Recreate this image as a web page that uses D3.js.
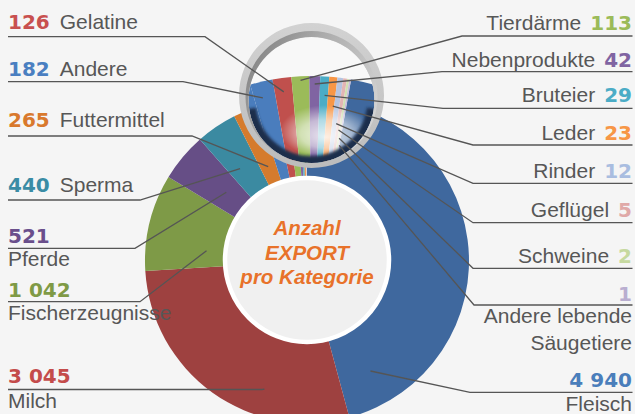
<!DOCTYPE html>
<html><head><meta charset="utf-8">
<script src="https://cdn.jsdelivr.net/npm/d3@7"></script>
<style>body{margin:0;background:#f5f5f5}svg{display:block}</style>
</head><body>
<svg id="c" width="635" height="414"></svg>
<script>
// ---------- data ----------
const categories = ["Fleisch","Milch","Fischerzeugnisse","Pferde","Sperma","Futtermittel","Andere","Gelatine","Tierdärme","Nebenprodukte","Bruteier","Leder","Rinder","Geflügel","Schweine","Andere lebende Säugetiere"];
const values = [4940,3045,1042,521,440,265,182,126,113,42,29,23,12,5,2,1];
const valueLabels = ["4 940","3 045","1 042","521","440","265","182","126","113","42","29","23","12","5","2","1"];
const labelLines = [["Fleisch"],["Milch"],["Fischerzeugnisse"],["Pferde"],["Sperma"],["Futtermittel"],["Andere"],["Gelatine"],["Tierdärme"],["Nebenprodukte"],["Bruteier"],["Leder"],["Rinder"],["Geflügel"],["Schweine"],["Andere lebende","Säugetiere"]];
const centerTitle = ["Anzahl","EXPORT","pro Kategorie"];
const lensFirst = 6; // slices shown enlarged in the magnifier (Andere ... Andere lebende Säugetiere)

// ---------- styles ----------
const sliceColors = ["#3f689e","#9e4140","#7e9a47","#664e86","#3b8aa1","#d57b2d","#4a7dbd","#c0504d","#9bbb59","#8064a2","#4bacc6","#f79646","#b6c4e0","#e3b5b4","#d1e0b2","#c7bcda"];
const numberColors = ["#4a7ebb","#c44c4b","#7f9a45","#6a4f8c","#3a8ca5","#d9792d","#4a7fc1","#c8504f","#9bbb59","#8064a2","#4bacc6","#f79646","#a9bde0","#e0a9a8","#c6d9a0","#b9aed0"];
const textColor = "#575757", lineColor = "#555";
// label layout: side, number baseline, stacked text baselines, underline y, bend x, leader target (fraction of slice angle, radius)
const layout = [
 {side:"R", numY:386.7, textY:[411], lineY:392.3, bendX:470, f:0.91, r:127},
 {side:"L", numY:383, textY:[408], lineY:389.5, bendX:262, f:0.33, r:135},
 {side:"L", numY:297, textY:[320], lineY:301.7, bendX:140, f:0.27, r:101},
 {side:"L", numY:243, textY:[266], lineY:248.3, bendX:135, f:0.53, r:106},
 {side:"L", numY:191.7, textY:null, lineY:200, bendX:140, f:0.37, r:114},
 {side:"L", numY:126.7, textY:null, lineY:136, bendX:192, f:0.49, r:102},
 {side:"L", numY:76, textY:null, lineY:81.7, bendX:183, f:0.4, r:208},
 {side:"L", numY:29.3, textY:null, lineY:36.7, bendX:205, f:0.5, r:210},
 {side:"R", numY:30, textY:null, lineY:36, bendX:462, f:0.5, r:220},
 {side:"R", numY:66.7, textY:null, lineY:71.7, bendX:442, f:0.5, r:216},
 {side:"R", numY:101.7, textY:null, lineY:108.3, bendX:443, f:0.6, r:205},
 {side:"R", numY:139.5, textY:null, lineY:145, bendX:473, f:0.8, r:195},
 {side:"R", numY:178, textY:null, lineY:183.3, bendX:473, f:0.85, r:178},
 {side:"R", numY:217, textY:null, lineY:222.7, bendX:473, f:0.85, r:172},
 {side:"R", numY:263, textY:null, lineY:268.3, bendX:473, f:0.85, r:164},
 {side:"R", numY:300.7, textY:[323,350], lineY:305, bendX:474, f:0.85, r:157}
];

const W = 635, H = 414, deg = Math.PI/180;
const cx = 307, cy = 261, rOut = 162, rIn = 80;
const lens = {cx:311.5, cy:95.5, r:72.5, hx:311.5, hy:100, hr:63};
const mag = {cx:312, cy:300, r:224, a0:-16*deg, a1:10.05*deg};

const svg = d3.select("#c");
const defs = svg.append("defs");
svg.append("rect").attr("width",W).attr("height",H).attr("fill","#f5f5f5");

// ---------- main donut ----------
const pie = d3.pie().sort(null).value(d => d).startAngle(0).endAngle(2*Math.PI);
const arcs = pie(values);
const arc = d3.arc().innerRadius(rIn).outerRadius(rOut);
const gMain = svg.append("g").attr("transform",`translate(${cx},${cy})`);
gMain.selectAll("path").data(arcs).join("path")
  .attr("d", arc).attr("fill",(d,i)=>sliceColors[i]);

// centre disc
svg.append("circle").attr("cx",cx).attr("cy",cy-1).attr("r",82)
  .attr("fill","#f0f0f0").attr("stroke","#fff").attr("stroke-width",4.5);
svg.append("text").attr("x",cx).attr("y",235).attr("text-anchor","middle")
  .attr("font-family","'Liberation Sans', Arial, sans-serif").attr("font-style","italic")
  .attr("font-weight","bold").attr("font-size",20.5).attr("fill","#e8722a")
  .selectAll("tspan").data(centerTitle).join("tspan")
  .attr("x",cx).attr("dy",(d,i)=> i===0?0:(i===1?25:23.5)).text(d=>d);

// ---------- magnifier ----------
defs.append("clipPath").attr("id","lensClip").append("circle")
  .attr("cx",lens.hx).attr("cy",lens.hy).attr("r",lens.hr);
const gloss = defs.append("radialGradient").attr("id","gloss").attr("cx","0.5").attr("cy","0.5").attr("r","0.5").attr("fx","0.5").attr("fy","0.62");
gloss.append("stop").attr("offset","0").attr("stop-color","#fff").attr("stop-opacity",0.85);
gloss.append("stop").attr("offset","0.55").attr("stop-color","#fff").attr("stop-opacity",0.55);
gloss.append("stop").attr("offset","1").attr("stop-color","#fff").attr("stop-opacity",0);
const blur = defs.append("filter").attr("id","blur").attr("x","-20%").attr("y","-20%").attr("width","140%").attr("height","140%");
blur.append("feGaussianBlur").attr("stdDeviation",1.6);
const blur2 = defs.append("filter").attr("id","blur2").attr("x","-30%").attr("y","-30%").attr("width","160%").attr("height","160%");
blur2.append("feGaussianBlur").attr("stdDeviation",3);
const wall = defs.append("linearGradient").attr("id","wall").attr("x1","0").attr("y1","0").attr("x2","1").attr("y2","0.6");
wall.append("stop").attr("offset","0").attr("stop-color","#6e6e6e");
wall.append("stop").attr("offset","0.45").attr("stop-color","#a8a8a8");
wall.append("stop").attr("offset","1").attr("stop-color","#d4d4d4");
const rim = defs.append("linearGradient").attr("id","rim").attr("x1","0").attr("y1","0").attr("x2","0").attr("y2","1");
rim.append("stop").attr("offset","0").attr("stop-color","#d2d2d2");
rim.append("stop").attr("offset","1").attr("stop-color","#bcbcbc");

const gLens = svg.append("g").attr("clip-path","url(#lensClip)");
gLens.append("rect").attr("x",lens.hx-70).attr("y",lens.hy-70).attr("width",140).attr("height",140).attr("fill","#f8f8f8");
const gMag = gLens.append("g").attr("transform",`translate(${mag.cx},${mag.cy})`);
const magArc = d3.arc().innerRadius(0).outerRadius(mag.r);
const smallIdx = d3.range(lensFirst, values.length);
const magPie = d3.pie().sort(null).value(i => Math.sqrt(values[i])).startAngle(mag.a0).endAngle(mag.a1);
const magArcs = magPie(smallIdx);
// continuation of neighbouring slices inside the lens
gMag.append("path").attr("d", magArc({startAngle: mag.a0 - 40*deg, endAngle: mag.a0})).attr("fill", sliceColors[lensFirst]);
gMag.append("path").attr("d", magArc({startAngle: mag.a1, endAngle: mag.a1 + 40*deg})).attr("fill", sliceColors[0]);
gMag.selectAll("path.m").data(magArcs).join("path").attr("class","m")
  .attr("d", magArc).attr("fill", d => sliceColors[d.data]);
// gloss
gLens.append("ellipse").attr("cx",326).attr("cy",131).attr("rx",46).attr("ry",26).attr("fill","url(#gloss)");
// inner shadow (navy) along lower rim
gLens.append("path").attr("transform",`translate(${lens.hx},${lens.hy})`)
  .attr("d", d3.arc().innerRadius(lens.hr-7).outerRadius(lens.hr+4)({startAngle:98*deg, endAngle:262*deg}))
  .attr("fill","#1c2e4c").attr("filter","url(#blur)");
// ring
const ringPath = d3.path();
ringPath.arc(lens.cx, lens.cy, lens.r, 0, 2*Math.PI); ringPath.closePath();
ringPath.moveTo(lens.hx+lens.hr, lens.hy); ringPath.arc(lens.hx, lens.hy, lens.hr, 0, 2*Math.PI); ringPath.closePath();
svg.append("path").attr("d", ringPath.toString()).attr("fill-rule","evenodd").attr("fill","url(#rim)");
// inner wall (darker, upper side)
const wallPath = d3.path();
wallPath.arc(lens.cx, lens.cy+1.5, lens.r-6.5, 0, 2*Math.PI); wallPath.closePath();
wallPath.moveTo(lens.hx+lens.hr, lens.hy); wallPath.arc(lens.hx, lens.hy, lens.hr, 0, 2*Math.PI); wallPath.closePath();
svg.append("path").attr("d", wallPath.toString()).attr("fill-rule","evenodd").attr("fill","url(#wall)").attr("opacity",0.9);

// ---------- leader lines ----------
function pt(c, a, r){ return [c[0] + r*Math.sin(a), c[1] - r*Math.cos(a)]; }
const gLines = svg.append("g").attr("fill","none").attr("stroke",lineColor).attr("stroke-width",1.3);
layout.forEach((L, i) => {
  let target;
  if (i >= lensFirst) {
    const a = magArcs[i - lensFirst];
    target = pt([mag.cx, mag.cy], a.startAngle + L.f*(a.endAngle - a.startAngle), L.r);
  } else {
    const a = arcs[i];
    target = pt([cx, cy], a.startAngle + L.f*(a.endAngle - a.startAngle), L.r);
  }
  const x0 = L.side === "L" ? 8 : 632.5;
  gLines.append("path").attr("d", d3.line()([[x0, L.lineY],[L.bendX, L.lineY], target]));
});

// ---------- labels ----------
const gLab = svg.append("g");
const numFont = "'DejaVu Sans', sans-serif", txtFont = "'Liberation Sans', Arial, sans-serif";
layout.forEach((L, i) => {
  const left = L.side === "L";
  const xEdge = left ? 8 : 632;
  const num = gLab.append("text").attr("x",xEdge).attr("y",L.numY)
    .attr("text-anchor", left ? "start" : "end")
    .attr("font-family",numFont).attr("font-weight","bold").attr("font-size",20)
    .attr("fill",numberColors[i]).text(valueLabels[i]);
  if (L.textY) {
    labelLines[i].forEach((t, k) => {
      gLab.append("text").attr("x",xEdge).attr("y",L.textY[k])
        .attr("text-anchor", left ? "start" : "end")
        .attr("font-family",txtFont).attr("font-size",21).attr("fill",textColor).text(t);
    });
  } else {
    const w = num.node().getComputedTextLength();
    gLab.append("text").attr("x", left ? xEdge + w + 10 : xEdge - w - 9).attr("y",L.numY)
      .attr("text-anchor", left ? "start" : "end")
      .attr("font-family",txtFont).attr("font-size",21).attr("fill",textColor).text(labelLines[i][0]);
  }
});
</script>
</body></html>
